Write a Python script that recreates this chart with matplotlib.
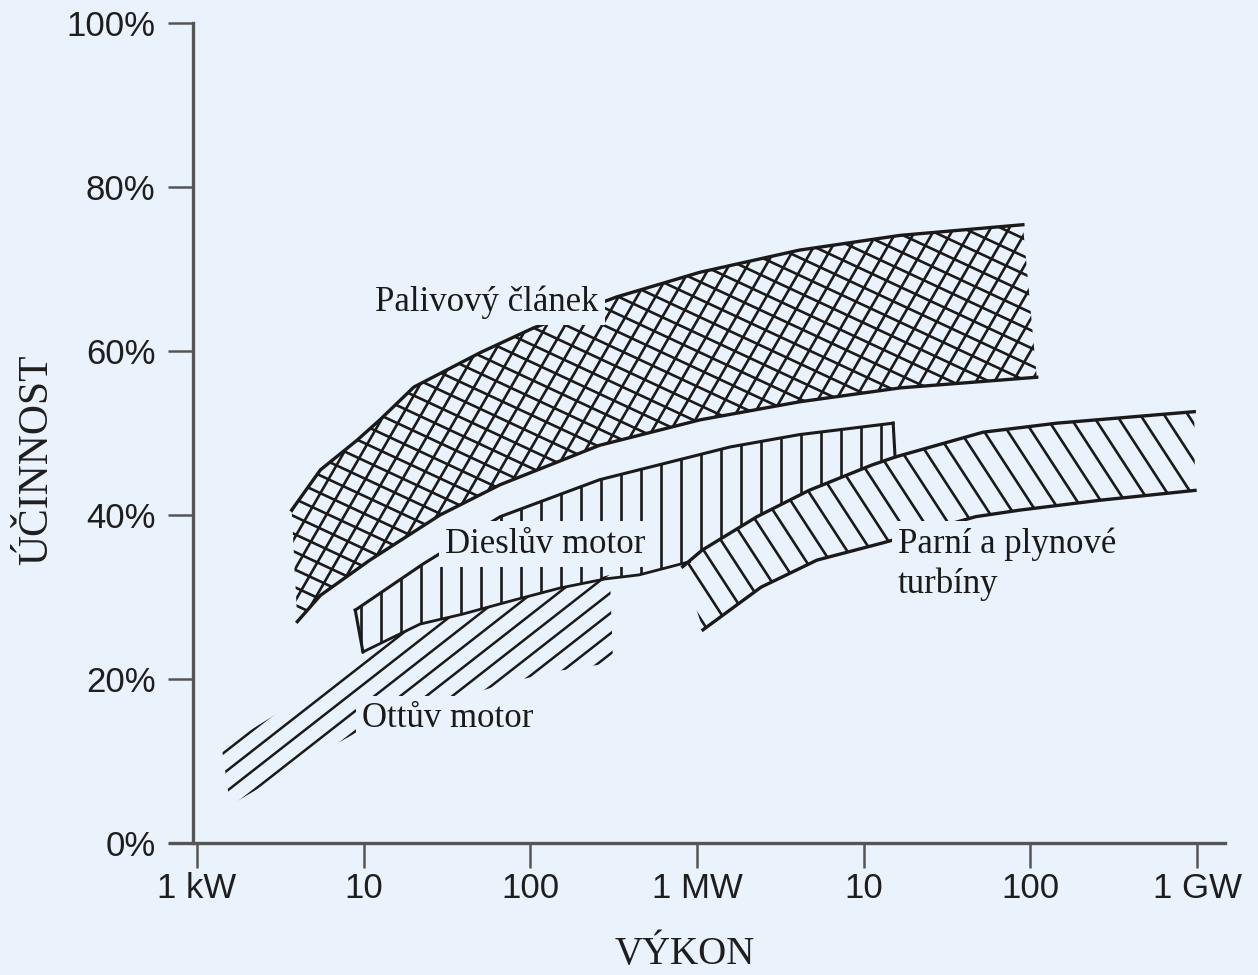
import numpy as np
import matplotlib
matplotlib.use("Agg")
import matplotlib.pyplot as plt
from matplotlib.collections import LineCollection
from matplotlib.transforms import IdentityTransform
from matplotlib.ticker import NullLocator

# ---------------------------
# data (power in kW, efficiency in %)
# ---------------------------
fc_upper_kw = [3.7, 5.5, 9.1, 12.5, 20, 50, 104, 330, 1040, 4100, 16500, 90000]
fc_upper_pct = [40.6, 45.5, 49.1, 51.6, 55.6, 59.8, 62.8, 66.6, 69.6, 72.3, 74.1, 75.4]
fc_lower_kw = [4.0, 5.5, 10.9, 28.7, 66, 260, 1040, 4100, 16500, 109000]
fc_lower_pct = [27.0, 30.2, 34.5, 40.0, 43.7, 48.5, 51.6, 53.8, 55.5, 56.8]

diesel_upper_kw = [8.9, 23, 66, 260, 1580, 4100, 15000]
diesel_upper_pct = [28.4, 34.1, 39.8, 44.3, 48.3, 49.8, 51.2]
diesel_lower_kw = [9.9, 21.8, 39, 79, 151, 280, 450, 900, 1070, 2290, 4690, 11200, 15400]
diesel_lower_pct = [23.3, 26.7, 27.9, 29.6, 31.1, 32.2, 32.7, 34.3, 35.7, 39.8, 43.0, 46.1, 47.1]

turb_upper_kw = [820, 1070, 2290, 4690, 11200, 15600, 52000, 144000, 960000]
turb_upper_pct = [33.7, 35.7, 39.8, 43.0, 46.1, 47.1, 50.1, 51.2, 52.6]
turb_lower_kw = [1085, 2420, 5240, 13000, 47000, 86500, 261000, 970000]
turb_lower_pct = [26.0, 31.2, 34.5, 36.6, 39.8, 40.6, 41.8, 43.0]

otto_upper_kw = [1.41, 3.15, 7.2, 9.9, 21.8, 39, 79, 151, 300]
otto_upper_pct = [11.6, 16.0, 21.1, 23.3, 26.7, 27.9, 29.6, 31.1, 32.7]
otto_lower_kw = [1.58, 3.6, 9.1, 25, 66, 137, 313]
otto_lower_pct = [4.6, 8.9, 13.5, 16.5, 19.3, 20.9, 22.0]

x_ticks = [1, 10, 100, 1e3, 1e4, 1e5, 1e6]
x_labels = ["1 kW", "10", "100", "1 MW", "10", "100", "1 GW"]
y_ticks = [0, 20, 40, 60, 80, 100]
y_labels = ["0%", "20%", "40%", "60%", "80%", "100%"]

BG = "#EAF2FC"
INK = "#1a1a1a"
AXC = "#555555"
W, H = 1258, 975

fig = plt.figure(figsize=(W / 100, H / 100), dpi=100, facecolor=BG)
ax = fig.add_axes([170 / W, 1 - 843 / H, 1055 / W, 820 / H])
ax.set_facecolor(BG)
ax.set_xscale("log")
ax.set_xlim(0.689, 1.468e6)
ax.set_ylim(0, 100)


def band(upper_x, upper_y, lower_x, lower_y):
    xs = list(upper_x) + list(lower_x)[::-1]
    ys = list(upper_y) + list(lower_y)[::-1]
    return ax.fill(xs, ys, facecolor="none", edgecolor="none")[0]


def hatch(patch, angle, spacing, lw=1.8):
    # parallel lines in pixel space, clipped to the band
    t = np.radians(angle)
    d = np.array([np.cos(t), np.sin(t)])
    n = np.array([-np.sin(t), np.cos(t)])
    c = np.array([W / 2, H / 2])
    L = np.hypot(W, H)
    segs = [[c + o * n - L * d, c + o * n + L * d] for o in np.arange(-L, L, spacing)]
    lc = LineCollection(segs, colors=INK, linewidths=lw,
                        transform=IdentityTransform(), zorder=2)
    ax.add_collection(lc, autolim=False)
    lc.set_clip_path(patch)


# Palivový článek
p = band(fc_upper_kw, fc_upper_pct, fc_lower_kw, fc_lower_pct)
hatch(p, 60, 16, 1.9)
hatch(p, -25, 16, 1.9)
ax.plot(fc_upper_kw, fc_upper_pct, color=INK, lw=2.4, zorder=3)
ax.plot(fc_lower_kw, fc_lower_pct, color=INK, lw=2.4, zorder=3)

# Dieslův motor
p = band(diesel_upper_kw, diesel_upper_pct, diesel_lower_kw, diesel_lower_pct)
hatch(p, 90, 20, 1.9)
ax.plot(diesel_upper_kw, diesel_upper_pct, color=INK, lw=2.2, zorder=3)
ax.plot([diesel_upper_kw[-1], diesel_lower_kw[-1]], [diesel_upper_pct[-1], diesel_lower_pct[-1]],
        color=INK, lw=2.2, zorder=3)
ax.plot([diesel_upper_kw[0], diesel_lower_kw[0]], [diesel_upper_pct[0], diesel_lower_pct[0]],
        color=INK, lw=2.2, zorder=3)
ax.plot(diesel_lower_kw[:8], diesel_lower_pct[:8], color=INK, lw=2.0, zorder=3)

# Parní a plynové turbíny
p = band(turb_upper_kw, turb_upper_pct, turb_lower_kw, turb_lower_pct)
hatch(p, -57, 20, 1.9)
ax.plot(turb_upper_kw, turb_upper_pct, color=INK, lw=2.4, zorder=3)
ax.plot(turb_lower_kw, turb_lower_pct, color=INK, lw=2.4, zorder=3)

# Ottův motor
p = band(otto_upper_kw, otto_upper_pct, otto_lower_kw, otto_lower_pct)
hatch(p, 38, 16, 1.8)

# popisky
box = dict(boxstyle="square,pad=0.18", fc=BG, ec="none")
serif = "Liberation Serif"
ax.text(11.7, 64.9, "Palivový článek", family=serif, fontsize=25, color=INK,
        ha="left", va="baseline", bbox=box, zorder=5)
ax.text(30.7, 35.4, "Dieslův motor", family=serif, fontsize=25, color=INK,
        ha="left", va="baseline", bbox=box, zorder=5)
ax.text(9.77, 14.1, "Ottův motor", family=serif, fontsize=25, color=INK,
        ha="left", va="baseline", bbox=box, zorder=5)
ax.text(16000, 35.4, "Parní a plynové", family=serif, fontsize=25, color=INK,
        ha="left", va="baseline", bbox=box, zorder=5)
ax.text(16000, 30.5, "turbíny", family=serif, fontsize=25, color=INK,
        ha="left", va="baseline", bbox=box, zorder=5)

# osy
for s in ("top", "right"):
    ax.spines[s].set_visible(False)
ax.spines["left"].set_position(("data", 0.946))
for s in ("left", "bottom"):
    ax.spines[s].set_color(AXC)
    ax.spines[s].set_linewidth(2.4)

ax.set_xticks(x_ticks)
ax.set_xticklabels(x_labels)
ax.xaxis.set_minor_locator(NullLocator())
ax.set_yticks(y_ticks)
ax.set_yticklabels(y_labels)
ax.tick_params(axis="both", direction="out", length=18, width=1.8, color=AXC,
               labelsize=25, labelcolor="#1e1e1e")
ax.tick_params(axis="x", pad=3)
ax.tick_params(axis="y", pad=9)
for lab in ax.get_xticklabels() + ax.get_yticklabels():
    lab.set_family("Liberation Sans")

ax.set_ylabel("ÚČINNOST", family=serif, fontsize=30, color="#1e1e1e")
ax.yaxis.label.set_va("center")
ax.yaxis.set_label_coords(-0.126, 0.467)
ax.set_xlabel("VÝKON", family=serif, fontsize=28, color="#1e1e1e")
ax.xaxis.label.set_va("baseline")
ax.xaxis.set_label_coords(0.488, -0.1476)

fig.savefig("out.png", dpi=100, facecolor=BG)
